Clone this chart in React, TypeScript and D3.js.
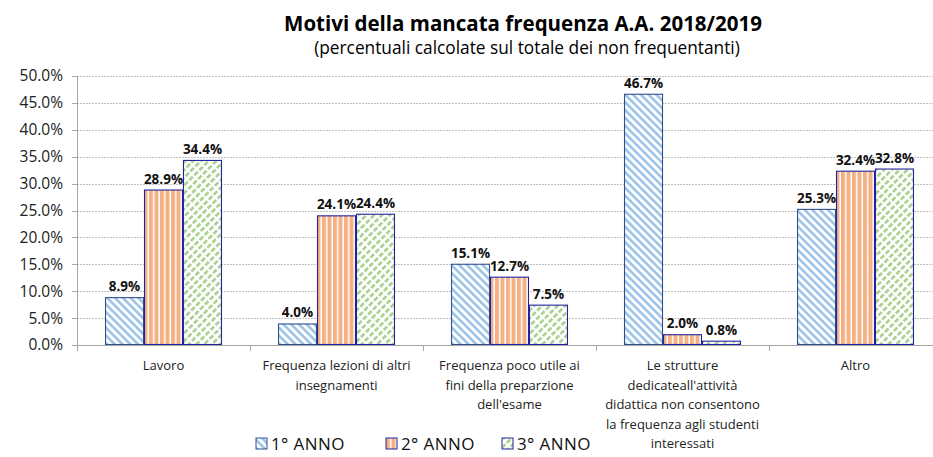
import React, { useEffect, useRef } from 'react';
import * as d3 from 'd3';

const categories: string[][] = [
  ['Lavoro'],
  ['Frequenza lezioni di altri', 'insegnamenti'],
  ['Frequenza poco utile ai', 'fini della preparzione', "dell'esame"],
  ['Le strutture', "dedicateall'attività", 'didattica non consentono', 'la frequenza agli studenti', 'interessati'],
  ['Altro'],
];
const seriesNames = ['1° ANNO', '2° ANNO', '3° ANNO'];
const anno1 = [8.9, 4.0, 15.1, 46.7, 25.3];
const anno2 = [28.9, 24.1, 12.7, 2.0, 32.4];
const anno3 = [34.4, 24.4, 7.5, 0.8, 32.8];
const yTicks = [0, 5, 10, 15, 20, 25, 30, 35, 40, 45, 50];

const FONT = "'Open Sans', 'Noto Sans', sans-serif";

export default function App() {
  const svgRef = useRef<SVGSVGElement>(null);

  useEffect(() => {
    if (!svgRef.current) return;
    const width = 933;
    const height = 457;
    const margin = { top: 76, right: -9, bottom: 112, left: 77 };
    const innerW = width - margin.left - margin.right;
    const innerH = height - margin.top - margin.bottom;

    const svg = d3.select(svgRef.current);
    svg.selectAll('*').remove();

    const defs = svg.append('defs');
    // 1° anno: light blue diagonal "\" stripes
    const p1 = defs.append('pattern').attr('id', 'pat1').attr('patternUnits', 'userSpaceOnUse')
      .attr('width', 5.5).attr('height', 5.5).attr('patternTransform', 'rotate(45)');
    p1.append('rect').attr('width', 5.5).attr('height', 5.5).attr('fill', '#fff');
    p1.append('rect').attr('width', 5.5).attr('height', 2.6).attr('fill', '#9DC3E6');
    // 2° anno: orange vertical stripes
    const p2 = defs.append('pattern').attr('id', 'pat2').attr('patternUnits', 'userSpaceOnUse')
      .attr('width', 5.5).attr('height', 6);
    p2.append('rect').attr('width', 5.5).attr('height', 6).attr('fill', '#fff');
    p2.append('rect').attr('width', 4).attr('height', 6).attr('fill', '#F4B183');
    // 3° anno: green dashed "/" stripes
    const p3 = defs.append('pattern').attr('id', 'pat3').attr('patternUnits', 'userSpaceOnUse')
      .attr('width', 7).attr('height', 5.5).attr('patternTransform', 'rotate(-45)');
    p3.append('rect').attr('width', 7).attr('height', 5.5).attr('fill', '#fff');
    p3.append('rect').attr('x', 0).attr('width', 5).attr('height', 2.6).attr('fill', '#A9D18E');

    const fills = ['url(#pat1)', 'url(#pat2)', 'url(#pat3)'];
    const strokes = ['#2F4F8F', '#2323A0', '#2323A0'];

    const g = svg.append('g').attr('transform', `translate(${margin.left},${margin.top})`);

    const x0 = d3.scaleBand<number>().domain(d3.range(categories.length)).range([0, innerW]).padding(0);
    const groupW = x0.bandwidth() * 0.676;
    const x1 = d3.scaleBand<number>().domain([0, 1, 2]).range([0, groupW]).padding(0);
    const y = d3.scaleLinear().domain([0, 50]).range([innerH, 0]);

    // grid
    g.append('g').selectAll('line').data(yTicks.slice(1)).enter().append('line')
      .attr('x1', 0).attr('x2', innerW)
      .attr('y1', d => Math.round(y(d)) + 0.5).attr('y2', d => Math.round(y(d)) + 0.5)
      .attr('stroke', '#BFBFBF').attr('stroke-width', 1).attr('stroke-dasharray', '2,1');

    // y labels
    g.append('g').selectAll('text').data(yTicks).enter().append('text')
      .attr('x', -14).attr('y', d => y(d)).attr('dy', '0.35em')
      .attr('text-anchor', 'end').attr('font-family', FONT).attr('font-size', 15.5).attr('fill', '#222')
      .text(d => d.toFixed(1) + '%');
    g.append('g').selectAll('line').data(yTicks).enter().append('line')
      .attr('x1', -5).attr('x2', 0)
      .attr('y1', d => Math.round(y(d)) + 0.5).attr('y2', d => Math.round(y(d)) + 0.5)
      .attr('stroke', '#A6A6A6');

    const series = [anno1, anno2, anno3];
    const groups = g.append('g').selectAll('g').data(categories.map((_, i) => i)).enter().append('g')
      .attr('transform', i => `translate(${(x0(i) as number) + (x0.bandwidth() - groupW) / 2},0)`);

    series.forEach((vals, s) => {
      groups.append('rect')
        .attr('x', () => (x1(s) as number) + 0.5)
        .attr('y', i => y(vals[i]) + 0.5)
        .attr('width', x1.bandwidth() - 1)
        .attr('height', i => Math.max(0, innerH - y(vals[i]) - 1))
        .attr('fill', fills[s])
        .attr('stroke', strokes[s])
        .attr('stroke-width', 1.1);
      groups.append('text')
        .attr('x', () => (x1(s) as number) + x1.bandwidth() / 2)
        .attr('y', i => y(vals[i]) - 6)
        .attr('text-anchor', 'middle')
        .attr('font-family', FONT).attr('font-weight', 'bold').attr('font-size', 13.5).attr('fill', '#111')
        .text(i => vals[i].toFixed(1) + '%');
    });

    // axes
    g.append('line').attr('x1', 0.5).attr('x2', 0.5).attr('y1', 0).attr('y2', innerH)
      .attr('stroke', '#A6A6A6');
    g.append('line').attr('x1', 0).attr('x2', innerW).attr('y1', innerH + 0.5).attr('y2', innerH + 0.5)
      .attr('stroke', '#A6A6A6');
    g.append('g').selectAll('line').data(d3.range(categories.length + 1)).enter().append('line')
      .attr('x1', i => Math.round(i * x0.bandwidth()) + 0.5).attr('x2', i => Math.round(i * x0.bandwidth()) + 0.5)
      .attr('y1', innerH).attr('y2', innerH + 6).attr('stroke', '#A6A6A6');

    // category labels
    const cl = g.append('g').selectAll('text').data(categories).enter().append('text')
      .attr('x', (_, i) => (x0(i) as number) + x0.bandwidth() / 2)
      .attr('y', innerH + 25)
      .attr('text-anchor', 'middle').attr('font-family', FONT).attr('font-size', 13).attr('fill', '#222');
    cl.selectAll('tspan').data(d => d).enter().append('tspan')
      .attr('x', function () { return (this.parentNode as SVGTextElement).getAttribute('x'); })
      .attr('dy', (_, j) => (j === 0 ? 0 : 19.5))
      .text(d => d);

    // title
    svg.append('text').attr('x', 523).attr('y', 31).attr('text-anchor', 'middle')
      .attr('font-family', FONT).attr('font-weight', 'bold').attr('font-size', 20.5).attr('fill', '#000')
      .text('Motivi della mancata frequenza A.A. 2018/2019');
    svg.append('text').attr('x', 527).attr('y', 54).attr('text-anchor', 'middle')
      .attr('font-family', FONT).attr('font-size', 17.3).attr('fill', '#000')
      .text('(percentuali calcolate sul totale dei non frequentanti)');

    // legend
    const legX = [256, 386, 502];
    const leg = svg.append('g').selectAll('g').data(seriesNames).enter().append('g')
      .attr('transform', (_, i) => `translate(${legX[i]},438)`);
    leg.append('rect').attr('width', 11).attr('height', 11)
      .attr('fill', (_, i) => fills[i]).attr('stroke', (_, i) => strokes[i]).attr('stroke-width', 1);
    leg.append('text').attr('x', 15).attr('y', 12)
      .attr('font-family', FONT).attr('font-size', 17).attr('letter-spacing', 0.4).attr('fill', '#111')
      .text(d => d);
  }, []);

  return (
    <svg ref={svgRef} width={933} height={457}
      style={{ position: 'absolute', left: 0, top: 0, background: '#fff', overflow: 'hidden' }} />
  );
}
